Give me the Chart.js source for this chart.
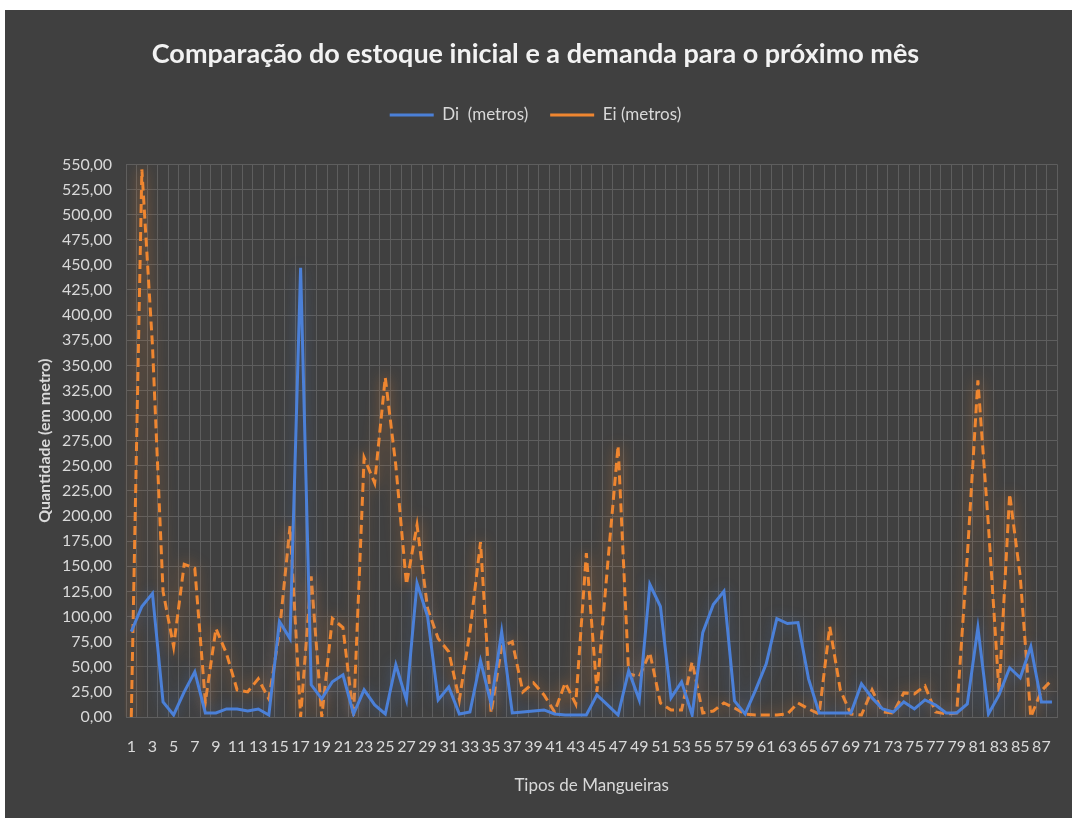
<!DOCTYPE html>
<html>
<head>
<meta charset="utf-8">
<script src="https://cdn.jsdelivr.net/npm/chart.js@4.4.0/dist/chart.umd.min.js"></script>
<style>
  html, body { margin:0; padding:0; background:#fff; }
  #wrap { position:absolute; left:5px; top:10px; width:1067px; height:808px; background:#404040; }
  canvas { display:block; }
</style>
</head>
<body>
<div id="wrap"><canvas id="chart" width="1067" height="808"></canvas></div>
<script>
// tipos de mangueira 1..88
const categories = ['1','2','3','4','5','6','7','8','9','10','11','12','13','14','15','16','17','18','19','20',
  '21','22','23','24','25','26','27','28','29','30','31','32','33','34','35','36','37','38','39','40',
  '41','42','43','44','45','46','47','48','49','50','51','52','53','54','55','56','57','58','59','60',
  '61','62','63','64','65','66','67','68','69','70','71','72','73','74','75','76','77','78','79','80',
  '81','82','83','84','85','86','87','88'];

// Di (metros) - demanda
const diMetros = [85,110,123,15,2,25,45,4,4,8, 8,6,8,2,95,78,447,32,18,35,
  42,3,27,12,3,52,17,133,100,17, 30,3,5,56,13,85,4,5,6,7,
  3,2,2,2,22,12,2,46,17,132, 110,19,35,2,84,112,125,16,3,27,
  53,98,93,94,38,4,4,4,4,33, 19,8,5,15,8,17,12,4,4,13,
  89,3,22,49,39,70,15,15];

// Ei (metros) - estoque inicial
const eiMetros = [0,545,370,125,70,152,148,15,88,63, 27,25,38,18,85,190,0,140,0,98,
  89,0,258,233,338,250,132,191,108,78, 65,17,85,174,4,70,75,25,34,22,
  5,34,13,163,25,150,270,43,40,64, 14,7,7,55,4,6,14,9,3,2,
  2,2,3,14,8,3,90,27,3,2, 27,5,4,24,23,31,5,3,4,160,
  335,190,25,222,140,0,26,37];

const FONT = 'Lato, "Open Sans", sans-serif';

// brilho (glow) atrás das linhas, como no Excel
const glow = {
  id: 'glow',
  beforeDatasetDraw(chart, args) {
    const ds = chart.data.datasets[args.index];
    chart.ctx.save();
    chart.ctx.shadowColor = ds.glowColor;
    chart.ctx.shadowBlur = 14;
  },
  afterDatasetDraw(chart) { chart.ctx.restore(); }
};

// espaço extra entre a legenda e a área do gráfico
const legendSpace = {
  id: 'legendSpace',
  beforeInit(chart) {
    const fit = chart.legend.fit;
    chart.legend.fit = function() { fit.call(this); this.height += 31; };
  }
};

new Chart(document.getElementById('chart'), {
  type: 'line',
  data: {
    labels: categories,
    datasets: [
      { label:'Di  (metros)', data:diMetros, borderColor:'#4b80d8', backgroundColor:'#4b80d8',
        borderWidth:3, pointRadius:0, pointStyle:'line', tension:0, glowColor:'rgba(75,128,216,0.45)' },
      { label:'Ei (metros)', data:eiMetros, borderColor:'#ef8630', backgroundColor:'#ef8630',
        borderWidth:3, borderDash:[9,5], pointRadius:0, pointStyle:'line', tension:0, glowColor:'rgba(239,134,48,0.75)' }
    ]
  },
  options: {
    responsive:false, animation:false,
    layout:{ padding:{ left:0, right:6, top:0, bottom:0 } },
    plugins:{
      title:{ display:true, text:'Comparação do estoque inicial e a demanda para o próximo mês',
        color:'#f2f2f2', font:{ family:FONT, size:27, weight:'bold' }, padding:{ top:28, bottom:14 } },
      legend:{ labels:{ color:'#d9d9d9', font:{ family:FONT, size:17 }, usePointStyle:true, pointStyleWidth:44, padding:22 } },
      tooltip:{ enabled:false }
    },
    scales:{
      x:{
        offset:true,
        grid:{ offset:true, color:'#5e5e5e', drawTicks:false },
        border:{ color:'#5e5e5e' },
        ticks:{ autoSkip:false, maxRotation:0, minRotation:0, color:'#d9d9d9', font:{ family:FONT, size:16 }, padding:20,
          callback:(v, i) => i % 2 === 0 ? categories[i] : '' },
        title:{ display:true, text:'Tipos de Mangueiras', color:'#d9d9d9', font:{ family:FONT, size:17 }, padding:{ top:0, bottom:22 } },
        afterFit(s){ s.height = 101; }
      },
      y:{
        min:0, max:550,
        grid:{ color:'#5e5e5e', drawTicks:false },
        border:{ display:false },
        ticks:{ stepSize:25, color:'#d9d9d9', font:{ family:FONT, size:16 }, padding:14,
          callback:v => v.toFixed(2).replace('.', ',') },
        title:{ display:true, text:'Quantidade (em metro)', color:'#d9d9d9', font:{ family:FONT, size:16, weight:'bold' }, padding:{ top:30, bottom:0 } },
        afterFit(s){ s.width = 121; }
      }
    }
  },
  plugins:[glow, legendSpace]
});
</script>
</body>
</html>
